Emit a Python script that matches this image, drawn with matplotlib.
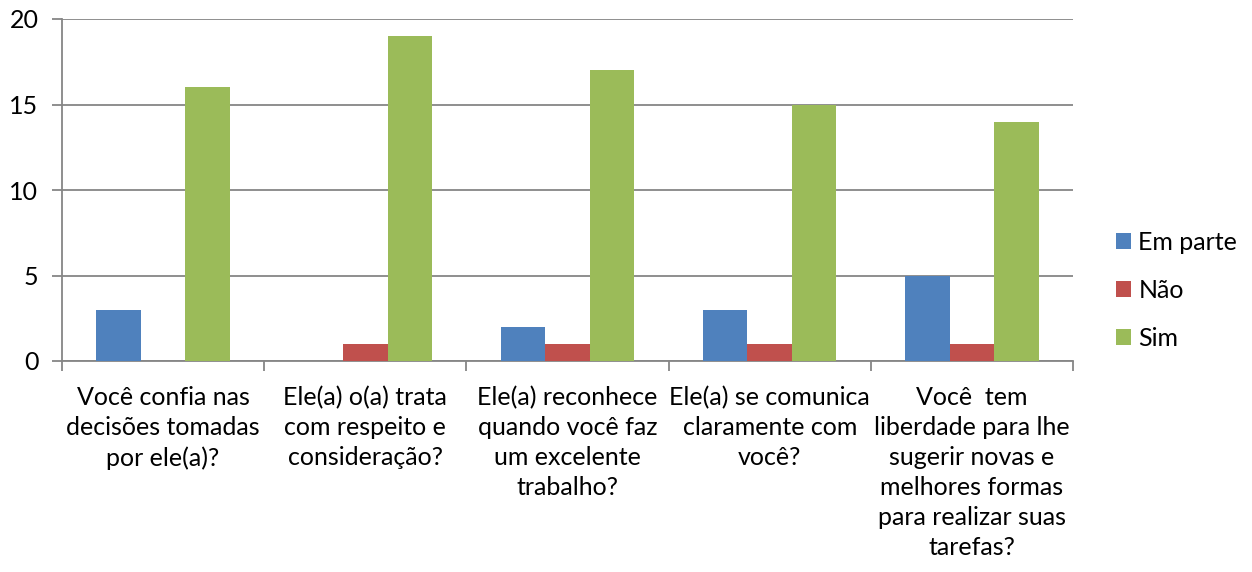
import matplotlib
matplotlib.use("Agg")
import matplotlib.pyplot as plt
import numpy as np
from matplotlib.patches import Patch

categories = [
    "Você confia nas\ndecisões tomadas\npor ele(a)?",
    "Ele(a) o(a) trata\ncom respeito e\nconsideração?",
    "Ele(a) reconhece\nquando você faz\num excelente\ntrabalho?",
    "Ele(a) se comunica\nclaramente com\nvocê?",
    "Você  tem\nliberdade para lhe\nsugerir novas e\nmelhores formas\npara realizar suas\ntarefas?",
]
series_names = ["Em parte", "Não", "Sim"]
em_parte = [3, 0, 2, 3, 5]
nao = [0, 1, 1, 1, 1]
sim = [16, 19, 17, 15, 14]
colors = ["#4F81BD", "#C0504D", "#9BBB59"]
yticks = [0, 5, 10, 15, 20]

plt.rcParams['font.family'] = ['Lato', 'DejaVu Sans']
fs = 18

fig = plt.figure(figsize=(12.52, 5.72), dpi=100)
ax = fig.add_axes([62/1252, 1-361/572, (1073-62)/1252, (361-19)/572])

x = np.arange(len(categories))
w = 0.22
for i, (vals, c) in enumerate(zip([em_parte, nao, sim], colors)):
    ax.bar(x + (i-1)*w, vals, width=w, color=c, zorder=3, label=series_names[i])

ax.set_xlim(-0.5, len(categories)-0.5)
ax.set_ylim(0, 20)
ax.set_yticks(yticks)
ax.set_yticklabels([str(v) for v in yticks], fontsize=fs)
ax.yaxis.grid(True, color="#868686", linewidth=1.3, zorder=0)
ax.tick_params(axis='y', length=7, width=1.3, color="#868686", direction='out', pad=10)

ax.set_xticks(np.arange(-0.5, len(categories)), minor=False)
ax.set_xticklabels([])
ax.tick_params(axis='x', which='major', length=7, width=1.3, color="#868686", direction='out')
ax.set_xticks(x, minor=True)
ax.set_xticklabels(categories, minor=True, fontsize=fs, linespacing=1.37, va='top')
ax.tick_params(axis='x', which='minor', length=0, pad=18)

for s in ['top', 'right']:
    ax.spines[s].set_visible(False)
for s in ['left', 'bottom']:
    ax.spines[s].set_color("#868686")
    ax.spines[s].set_linewidth(1.3)

handles = [Patch(facecolor=c, label=n) for c, n in zip(colors, series_names)]
fig.legend(handles=handles, loc='center left', bbox_to_anchor=(1116/1252, 1-290/572),
           frameon=False, fontsize=fs, handlelength=0.6, handleheight=0.6,
           handletextpad=0.3, labelspacing=1.0, borderpad=0, borderaxespad=0)

fig.savefig("out.png", dpi=100)
